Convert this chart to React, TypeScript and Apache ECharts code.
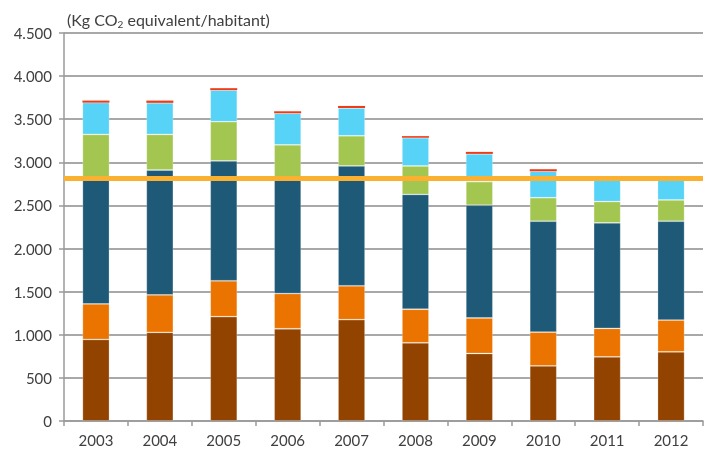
import React, { useEffect, useRef } from "react";
import * as echarts from "echarts";

const years = ["2003", "2004", "2005", "2006", "2007", "2008", "2009", "2010", "2011", "2012"];
const brown = [946, 1028, 1210, 1070, 1175, 907, 783, 639, 744, 802];
const orange = [412, 435, 416, 408, 393, 389, 412, 392, 330, 369];
const darkBlue = [1472, 1448, 1390, 1352, 1390, 1332, 1308, 1286, 1224, 1146];
const green = [494, 413, 455, 373, 350, 330, 273, 273, 247, 247];
const lightBlue = [368, 366, 366, 366, 322, 327, 322, 306, 255, 236];
const red = [24, 26, 23, 23, 24, 19, 23, 24, 15, 15];
const targetLine = 2818;

const colors = ["#924300", "#EB7300", "#1E5A77", "#A3C650", "#56D3F6", "#F23A14"];
const seriesData = [brown, orange, darkBlue, green, lightBlue, red];

export default function App() {
  const ref = useRef<HTMLDivElement>(null);
  useEffect(() => {
    const chart = echarts.init(ref.current!, undefined, { renderer: "svg" });
    const font = "Lato";
    chart.setOption({
      animation: false,
      textStyle: { fontFamily: font },
      title: {
        text: "{a|(Kg CO}{s|2}{a| equivalent/habitant)}",
        left: 62,
        top: 4,
        textStyle: {
          fontWeight: "normal",
          rich: {
            a: { fontSize: 16, color: "#404040", fontFamily: font, fontWeight: "normal", lineHeight: 20 },
            s: { fontSize: 10, color: "#404040", fontFamily: font, fontWeight: "normal", padding: [9, 0, 0, 0], lineHeight: 20 },
          },
        },
      },
      grid: { left: 64, right: 6, top: 33, bottom: 34 },
      xAxis: {
        type: "category",
        data: years,
        axisLine: { lineStyle: { color: "#9a9a9a", width: 1.5 } },
        axisTick: { show: true, length: 5, lineStyle: { color: "#9a9a9a", width: 1.5 } },
        axisLabel: { color: "#404040", fontSize: 15, margin: 11, fontFamily: font },
      },
      yAxis: {
        type: "value",
        min: 0,
        max: 4500,
        interval: 500,
        axisLine: { show: true, lineStyle: { color: "#9a9a9a", width: 1.5 } },
        axisTick: { show: true, length: 5, lineStyle: { color: "#9a9a9a", width: 1.5 } },
        splitLine: { lineStyle: { color: "#a8a8a8", width: 2 } },
        axisLabel: {
          color: "#404040",
          fontSize: 15,
          margin: 12,
          fontFamily: font,
          formatter: (v: number) => (v >= 1000 ? Math.floor(v / 1000) + "." + String(v % 1000).padStart(3, "0") : String(v)),
        },
      },
      series: seriesData.map((d, i) => ({
        type: "bar",
        stack: "total",
        data: d,
        barWidth: 27,
        itemStyle: {
          color: colors[i],
          borderColor: i === seriesData.length - 1 ? colors[i] : "rgba(255,255,255,0.3)",
          borderWidth: i === seriesData.length - 1 ? 0 : 0.8,
        },
        z: 2,
        ...(i === seriesData.length - 1
          ? {
              markLine: {
                silent: true,
                symbol: "none",
                z: 10,
                label: { show: false },
                lineStyle: { color: "#FBB12F", width: 5, type: "solid" },
                data: [{ yAxis: targetLine }],
              },
            }
          : {}),
      })),
    });
    return () => chart.dispose();
  }, []);
  return <div ref={ref} style={{ position: "fixed", left: 0, top: 0, width: 709, height: 455 }} />;
}
